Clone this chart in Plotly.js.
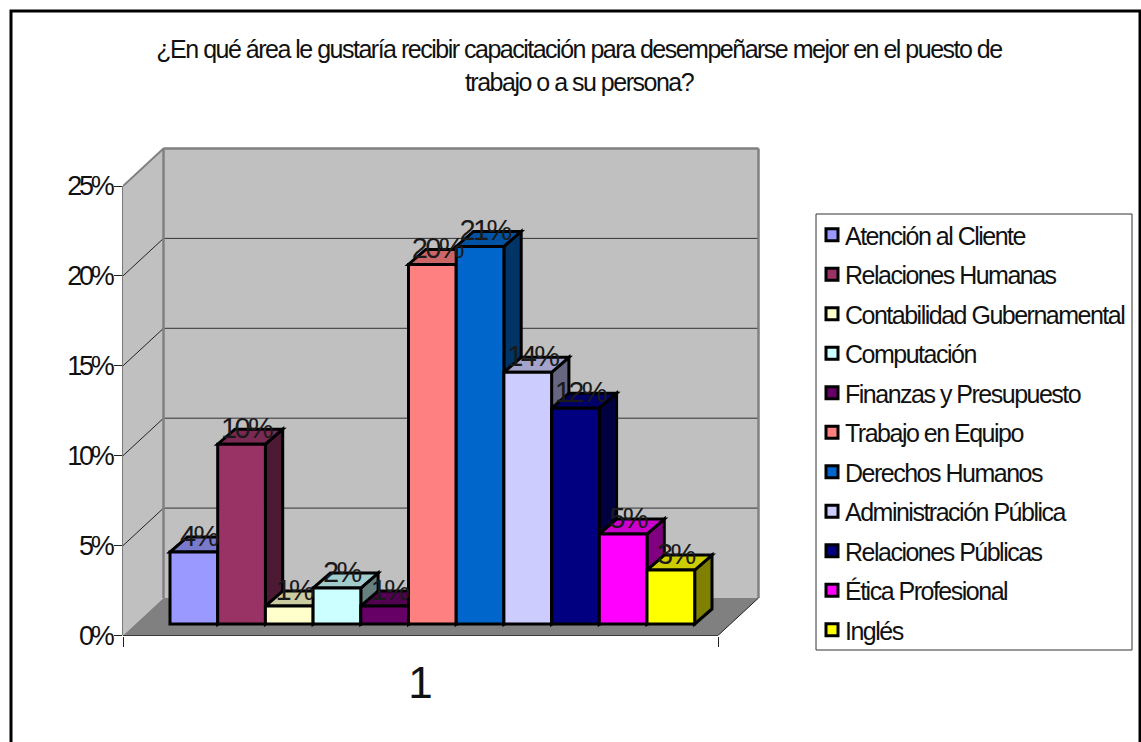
<!DOCTYPE html>
<html lang="es">
<head>
<meta charset="utf-8">
<title>Capacitación</title>
<script src="https://cdn.plot.ly/plotly-3.0.1.min.js"></script>
<style>
  html, body { margin: 0; padding: 0; background: #fff; overflow: hidden; }
  #chart { width: 1141px; height: 742px; }
  /* Tight tracking throughout the chart's lettering */
  .gtitle { letter-spacing: -1.5px; }
  .legendtext { letter-spacing: -1.5px; transform: translateX(-7px); }
  .ytick text { letter-spacing: -3.2px; }
  .textpoint text { letter-spacing: -2.6px; }
</style>
</head>
<body>
<div id="chart"></div>
<script>
// Survey answers, one series per training area (percent of respondents)
const areas = ["Atención al Cliente", "Relaciones Humanas", "Contabilidad Gubernamental",
  "Computación", "Finanzas y Presupuesto", "Trabajo en Equipo", "Derechos Humanos",
  "Administración Pública", "Relaciones Públicas", "Ética Profesional", "Inglés"];
const percents = [4, 10, 1, 2, 1, 20, 21, 14, 12, 5, 3];
const fills = ["#9999FF", "#993366", "#FFFFCC", "#CCFFFF", "#660066", "#FF8080",
  "#0066CC", "#CCCCFF", "#000080", "#FF00FF", "#FFFF00"];
const valueTicks = [0, 5, 10, 15, 20, 25];
const titleText = "¿En qué área le gustaría recibir capacitación para desempeñarse mejor en el puesto de<br>trabajo o a su persona?";

const W = 1141, H = 742;
const FONT = '"Liberation Sans", Arial, sans-serif';
const INK = "#111";

// Page-pixel frame of the chart's axis box
const frontLeft = 123, frontRight = 718, zeroY = 635.5, pxPerPct = 17.98;
const pxPerX = frontRight - frontLeft;       // one category spans the floor's front edge
const xRangeMax = 0.5 + (762 - frontLeft) / pxPerX;
const plotTopY = 145;
const yRangeMax = (zeroY - plotTopY) / pxPerPct;

// Oblique projection, expressed in axis units
const wallDX = 40.5 / pxPerX, wallDY = 37.5 / pxPerPct;   // depth of the floor and side wall
const barDX = 17.3 / pxPerX, barDY = 15 / pxPerPct;       // depth of each block
const barShiftY = 11.5 / pxPerPct;                        // blocks sit back from the front edge
const barStart = 0.5 + 47 / pxPerX, barW = 47.7 / pxPerX;

function shade(hex, k) {
  const n = parseInt(hex.slice(1), 16);
  const c = [n >> 16 & 255, n >> 8 & 255, n & 255].map(v => Math.round(v * k));
  return "rgb(" + c.join(",") + ")";
}
function poly(pts, fill, line, width, extra) {
  return Object.assign({
    type: "path", xref: "x", yref: "y", layer: "below",
    path: "M" + pts.map(p => p[0] + "," + p[1]).join("L") + "Z",
    fillcolor: fill, line: { color: line, width: width }
  }, extra || {});
}
function seg(x0, y0, x1, y1, color, width) {
  return { type: "line", xref: "x", yref: "y", layer: "below", x0, y0, x1, y1, line: { color, width } };
}

const L = 0.5, R = 1.5, top25 = 25;
const shapes = [];

// Outer chart border and legend box
shapes.push({ type: "rect", xref: "paper", yref: "paper", layer: "below",
  x0: 11 / W, x1: 1140 / W, y0: -0.05, y1: 1 - 11 / H,
  line: { color: "#000", width: 3 }, fillcolor: "#fff" });
shapes.push({ type: "rect", xref: "paper", yref: "paper", layer: "below",
  x0: 816 / W, x1: 1132 / W, y0: 1 - 650 / H, y1: 1 - 214 / H,
  line: { color: "#333", width: 1 }, fillcolor: "#fff" });

// Side wall, back wall and floor
shapes.push(poly([[L, 0], [L + wallDX, wallDY], [L + wallDX, top25 + wallDY], [L, top25]], "#C0C0C0", "rgba(0,0,0,0)", 0));
shapes.push(poly([[L + wallDX, wallDY], [R + wallDX, wallDY], [R + wallDX, top25 + wallDY], [L + wallDX, top25 + wallDY]], "#C0C0C0", "rgba(0,0,0,0)", 0));
shapes.push(poly([[L, 0], [R, 0], [R + wallDX, wallDY], [L + wallDX, wallDY]], "#808080", "rgba(0,0,0,0)", 0));

// Gridlines run along the side wall and across the back wall
valueTicks.slice(1, -1).forEach(v => {
  shapes.push(seg(L, v, L + wallDX, v + wallDY, "#222", 1));
  shapes.push(seg(L + wallDX, v + wallDY, R + wallDX, v + wallDY, "#333", 1));
});

// Wall outlines
shapes.push(seg(L, top25, L + wallDX, top25 + wallDY, "#808080", 2));
shapes.push(seg(L + wallDX, top25 + wallDY, R + wallDX, top25 + wallDY, "#808080", 2.5));
shapes.push(seg(L + wallDX, wallDY, L + wallDX, top25 + wallDY, "#808080", 2.5));
shapes.push(seg(R + wallDX, wallDY, R + wallDX, top25 + wallDY, "#808080", 2.5));
shapes.push(seg(R, 0, R + wallDX, wallDY, "#222", 1));
shapes.push({ type: "line", xref: "paper", yref: "y", layer: "below",
  x0: frontLeft / W, x1: frontLeft / W, y0: 0, y1: top25, line: { color: "#222", width: 1.2 } });
shapes.push({ type: "line", xref: "x", yref: "paper", layer: "below",
  x0: L, x1: R, y0: 1 - zeroY / H, y1: 1 - zeroY / H, line: { color: "#222", width: 1.2 } });

// Top and right faces of each block, painted left to right under the front faces
percents.forEach((v, i) => {
  const x0 = barStart + i * barW, x1 = x0 + barW;
  const b = barShiftY, t = barShiftY + v;
  shapes.push(poly([[x1, b], [x1 + barDX, b + barDY], [x1 + barDX, t + barDY], [x1, t]], shade(fills[i], 0.5), "#000", 3));
  shapes.push(poly([[x0, t], [x1, t], [x1 + barDX, t + barDY], [x0 + barDX, t + barDY]], shade(fills[i], 0.8), "#000", 3));
});

// Front faces: one bar trace per training area
const traces = areas.map((name, i) => ({
  type: "bar", name: name, legendgroup: name,
  x: [barStart + (i + 0.5) * barW], y: [percents[i]], base: [barShiftY], width: [barW],
  marker: { color: fills[i], line: { color: "#000", width: 3 } },
  hovertemplate: name + ": %{y}%<extra></extra>"
}));

// Value labels above each block
traces.push({
  type: "scatter", mode: "text", showlegend: false, cliponaxis: false, hoverinfo: "skip",
  x: percents.map((v, i) => barStart + (i + 0.5) * barW + 4.5 / pxPerX),
  y: percents.map(v => barShiftY + v + 13.5 / pxPerPct),
  text: percents.map(v => v + "%"),
  textposition: "middle center",
  textfont: { family: FONT, size: 29, color: "#1a1a1a" }
});

const layout = {
  width: W, height: H, autosize: false,
  margin: { l: 0, r: 0, t: 0, b: 0 },
  paper_bgcolor: "#fff", plot_bgcolor: "rgba(0,0,0,0)",
  showlegend: true, barmode: "overlay", hovermode: "closest",
  font: { family: FONT, color: INK },
  title: { text: titleText, x: 579 / W, xanchor: "center", y: 1 - 58 / H, yanchor: "top",
    font: { family: FONT, size: 25, color: INK } },
  xaxis: {
    domain: [frontLeft / W, 762 / W], range: [0.5, xRangeMax], fixedrange: true,
    tickmode: "array", tickvals: [1], ticktext: ["1"], ticks: "", showgrid: false, zeroline: false,
    showline: false, ticklabelstandoff: 17, tickfont: { family: FONT, size: 44, color: INK },
    minor: { tickmode: "array", tickvals: [0.5, 1.5], ticks: "outside", ticklen: 10, tickwidth: 1, tickcolor: "#222", showgrid: false }
  },
  yaxis: {
    domain: [1 - zeroY / H, 1 - plotTopY / H], range: [0, yRangeMax], fixedrange: true,
    tickmode: "array", tickvals: valueTicks, ticktext: valueTicks.map(v => v + "%"), ticks: "outside", ticklen: 8,
    tickwidth: 1, tickcolor: "#222", showgrid: false, zeroline: false, showline: false,
    ticklabelstandoff: -3, tickfont: { family: FONT, size: 27, color: INK }
  },
  legend: {
    x: 812 / W, y: 1 - 212 / H, xanchor: "left", yanchor: "top",
    bgcolor: "rgba(0,0,0,0)", borderwidth: 0, traceorder: "grouped",
    tracegroupgap: 4, font: { family: FONT, size: 25, color: INK }, itemclick: false, itemdoubleclick: false
  },
  shapes: shapes
};

Plotly.newPlot("chart", traces, layout, { displayModeBar: false });
</script>
</body>
</html>
